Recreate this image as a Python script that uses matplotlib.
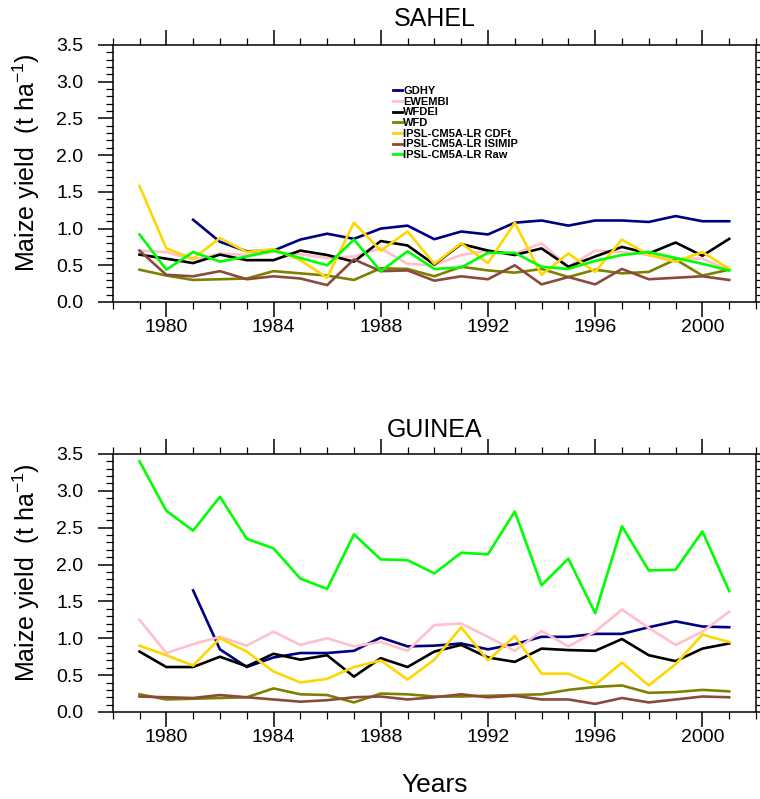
import numpy as np
import matplotlib
matplotlib.use("Agg")
import matplotlib.pyplot as plt
from matplotlib.ticker import MultipleLocator

plt.rcParams['font.family'] = ['Liberation Sans', 'DejaVu Sans']
plt.rcParams['mathtext.fontset'] = 'custom'
plt.rcParams['mathtext.rm'] = 'Liberation Sans'
plt.rcParams['mathtext.default'] = 'rm'

nan = np.nan
years = np.arange(1979, 2002)

# SAHEL
gdhy_s = [nan, nan, 1.12, 0.82, 0.69, 0.70, 0.85, 0.93, 0.86, 1.00, 1.04, 0.855,
          0.96, 0.92, 1.08, 1.11, 1.04, 1.11, 1.11, 1.09, 1.17, 1.10, 1.10]
ewembi_s = [0.70, 0.68, 0.58, 0.66, 0.64, 0.68, 0.65, 0.60, 0.62, 0.73, 0.52, 0.50,
            0.64, 0.70, 0.66, 0.80, 0.48, 0.70, 0.68, 0.64, 0.59, 0.59, 0.43]
wfdei_s = [0.645, 0.59, 0.53, 0.645, 0.57, 0.57, 0.70, 0.64, 0.55, 0.83, 0.77, 0.51,
           0.79, 0.70, 0.64, 0.73, 0.48, 0.62, 0.75, 0.66, 0.81, 0.63, 0.86]
wfd_s = [0.44, 0.36, 0.30, 0.31, 0.32, 0.42, 0.39, 0.36, 0.30, 0.46, 0.45, 0.35,
         0.48, 0.43, 0.40, 0.45, 0.34, 0.44, 0.39, 0.41, 0.58, 0.36, 0.44]
cdft_s = [1.58, 0.73, 0.59, 0.87, 0.68, 0.72, 0.57, 0.33, 1.08, 0.70, 0.96, 0.52,
          0.80, 0.53, 1.08, 0.37, 0.66, 0.41, 0.85, 0.64, 0.55, 0.68, 0.45]
isimip_s = [0.70, 0.37, 0.35, 0.42, 0.31, 0.35, 0.32, 0.23, 0.58, 0.42, 0.43, 0.29,
            0.35, 0.31, 0.50, 0.24, 0.34, 0.24, 0.45, 0.31, 0.33, 0.35, 0.30]
raw_s = [0.92, 0.44, 0.68, 0.55, 0.62, 0.70, 0.60, 0.50, 0.85, 0.42, 0.69, 0.45,
         0.47, 0.67, 0.67, 0.48, 0.45, 0.56, 0.64, 0.68, 0.60, 0.52, 0.43]

# GUINEA
gdhy_g = [nan, nan, 1.65, 0.85, 0.61, 0.74, 0.80, 0.80, 0.83, 1.01, 0.89, 0.90,
          0.93, 0.85, 0.92, 1.02, 1.02, 1.06, 1.06, 1.15, 1.23, 1.16, 1.15]
ewembi_g = [1.25, 0.80, 0.92, 1.02, 0.90, 1.09, 0.91, 1.00, 0.89, 0.95, 0.83, 1.18,
            1.20, 1.02, 0.83, 1.10, 0.89, 1.09, 1.39, 1.14, 0.91, 1.09, 1.36]
wfdei_g = [0.82, 0.61, 0.61, 0.75, 0.62, 0.79, 0.71, 0.77, 0.48, 0.73, 0.61, 0.82,
           0.91, 0.74, 0.68, 0.86, 0.84, 0.83, 0.99, 0.77, 0.69, 0.86, 0.93]
wfd_g = [0.24, 0.17, 0.18, 0.19, 0.20, 0.32, 0.24, 0.23, 0.13, 0.25, 0.24, 0.21,
         0.21, 0.22, 0.23, 0.24, 0.30, 0.34, 0.36, 0.26, 0.27, 0.30, 0.28]
cdft_g = [0.90, 0.77, 0.63, 1.00, 0.82, 0.55, 0.40, 0.45, 0.61, 0.70, 0.44, 0.71,
          1.15, 0.70, 1.03, 0.52, 0.52, 0.37, 0.67, 0.36, 0.65, 1.05, 0.95]
isimip_g = [0.21, 0.20, 0.19, 0.23, 0.20, 0.17, 0.14, 0.16, 0.20, 0.21, 0.17, 0.20,
            0.24, 0.20, 0.22, 0.17, 0.17, 0.11, 0.19, 0.13, 0.17, 0.21, 0.20]
raw_g = [3.40, 2.73, 2.46, 2.92, 2.35, 2.22, 1.81, 1.67, 2.41, 2.07, 2.06, 1.88,
         2.16, 2.14, 2.72, 1.72, 2.08, 1.34, 2.52, 1.92, 1.93, 2.45, 1.64]

labels = ["GDHY", "EWEMBI", "WFDEI", "WFD", "IPSL-CM5A-LR CDFt",
          "IPSL-CM5A-LR ISIMIP", "IPSL-CM5A-LR Raw"]
colors = ["#000080", "#ffc0cb", "#000000", "#808000", "#ffd700",
          "#8b4a3c", "#00ff00"]

sahel = [gdhy_s, ewembi_s, wfdei_s, wfd_s, cdft_s, isimip_s, raw_s]
guinea = [gdhy_g, ewembi_g, wfdei_g, wfd_g, cdft_g, isimip_g, raw_g]

W, H = 760, 799
fig = plt.figure(figsize=(W / 100, H / 100), dpi=100)

left = 112.7 / W
width = (756 - 112.7) / W
ax1 = fig.add_axes([left, 1 - 302 / H, width, 257 / H])
ax2 = fig.add_axes([left, 1 - 712 / H, width, 258 / H])

for ax, series in [(ax1, sahel), (ax2, guinea)]:
    for vals, lab, col in zip(series, labels, colors):
        ax.plot(years, vals, color=col, lw=1.9, label=lab)
    ax.set_xlim(1978, 2002)
    ax.set_ylim(0, 3.5)
    ax.xaxis.set_major_locator(MultipleLocator(4))
    ax.xaxis.set_minor_locator(MultipleLocator(1))
    ax.yaxis.set_major_locator(MultipleLocator(0.5))
    ax.yaxis.set_minor_locator(MultipleLocator(0.1))
    ax.yaxis.set_major_formatter(plt.FormatStrFormatter('%.1f'))
    ax.tick_params(which='both', direction='out', top=True, right=True, labelsize=14)
    ax.tick_params(which='major', length=11, width=1.1)
    ax.tick_params(which='minor', length=5, width=0.9)
    ax.tick_params(axis='x', pad=1)
    ax.tick_params(axis='y', pad=10)
    for sp in ax.spines.values():
        sp.set_linewidth(1.1)

leg = ax1.legend(loc='upper left', bbox_to_anchor=(0.436, 0.84), frameon=False,
                 handlelength=0.8, handletextpad=0.1, labelspacing=0.06,
                 borderpad=0, borderaxespad=0, prop={'weight': 'bold', 'size': 8})
for ln in leg.get_lines():
    ln.set_linewidth(2)

cx = left + width / 2
fig.text(cx, 1 - 19 / H, "SAHEL", ha='center', va='center', fontsize=18)
fig.text(cx, 1 - 430 / H, "GUINEA", ha='center', va='center', fontsize=18)
ylab = "Maize yield  (t ha$^{-1}$)"
fig.text(26 / W, 1 - 163 / H, ylab, rotation=90, ha='center', va='center', fontsize=18)
fig.text(26 / W, 1 - 573 / H, ylab, rotation=90, ha='center', va='center', fontsize=18)
fig.text(cx, 1 - 785 / H, "Years", ha='center', va='center', fontsize=19)

fig.savefig("out.png", dpi=100)
